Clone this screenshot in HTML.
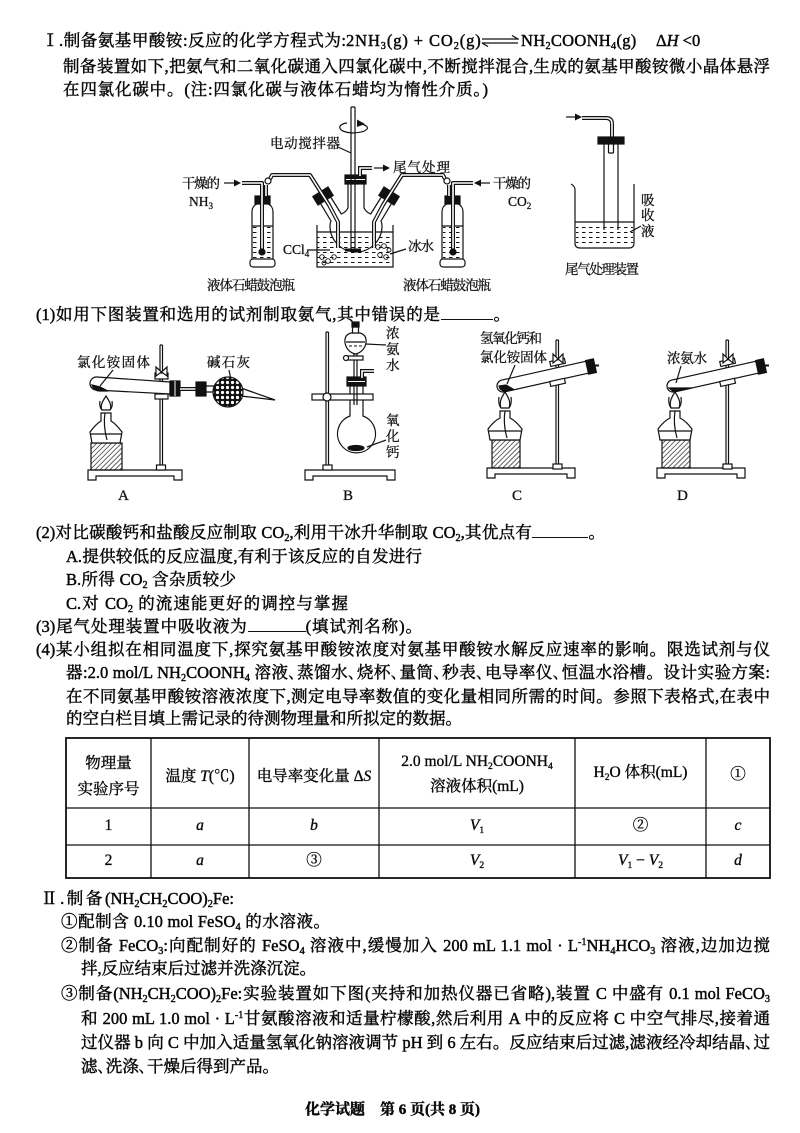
<!DOCTYPE html>
<html lang="zh-CN">
<head>
<meta charset="utf-8">
<style>
html,body{margin:0;padding:0;}
body{width:800px;height:1133px;background:#fff;position:relative;overflow:hidden;font-family:"Liberation Serif","Noto Serif CJK SC",serif;color:#080808;}
.l{position:absolute;font-size:16.5px;line-height:20px;height:20px;white-space:nowrap;-webkit-text-stroke:0.45px #080808;}
.j{text-align:justify;text-align-last:justify;}
.b{display:inline-block;border-bottom:1px solid #111;height:12px;}
.tc{position:absolute;font-size:15.5px;line-height:20px;text-align:center;white-space:nowrap;-webkit-text-stroke:0.35px #080808;}
sub{font-size:0.62em;vertical-align:-0.3em;line-height:0;}
sup{font-size:0.62em;vertical-align:0.6em;line-height:0;}
i{font-style:italic;}
svg text{font-family:"Liberation Serif","Noto Serif CJK SC",serif;font-size:13.5px;fill:#111;stroke:#111;stroke-width:0.3px;}
svg text.lt{font-size:15px;}
</style>
</head>
<body>

<svg width="800" height="1133" style="position:absolute;left:0;top:0" stroke="#111" fill="none" stroke-width="1.2">
<defs>
<pattern id="dl" width="7" height="5" patternUnits="userSpaceOnUse"><path d="M1 2.5H4.5" stroke="#111" stroke-width="1"/></pattern>
<pattern id="ht" width="3.5" height="3.5" patternUnits="userSpaceOnUse" patternTransform="rotate(45)"><path d="M0 0V3.5" stroke="#111" stroke-width="1.3"/></pattern>
<pattern id="bl" width="5" height="5" patternUnits="userSpaceOnUse"><rect width="5" height="5" fill="#111" stroke="none"/><circle cx="2.5" cy="2.5" r="1.6" fill="#fff" stroke="none"/></pattern>
</defs>

<!-- ========== Figure 1 ========== -->
<rect x="317" y="233" width="76" height="33" fill="url(#dl)" stroke="none"/>
<path d="M317 225V267H393V225M317 232H393"/>
<g stroke-width="0.9">
<circle cx="322" cy="257" r="2.3"/><circle cx="328" cy="261" r="2.3"/><circle cx="334" cy="257" r="2.3"/><circle cx="324" cy="263" r="2"/>
<circle cx="378" cy="247" r="2.3"/><circle cx="384" cy="246" r="2.3"/><circle cx="389" cy="250" r="2"/><circle cx="380" cy="255" r="2.3"/><circle cx="386" cy="257" r="2.3"/>
</g>
<path d="M320.5 203.4L331 221Q330 223 330 226A26 26 0 0 0 382 226Q382 223 381 221L391.5 203.4"/>
<path d="M330.7 197L341.3 214Q346 212 348 208V184M381.3 197L370.7 214Q366 212 364 208V184"/>
<polygon points="333.2,195.4 328,187 312.8,196.6 318,205" fill="#111"/>
<polygon points="378.8,195.4 384,187 399.2,196.6 394,205" fill="#111"/>
<rect x="345" y="175" width="21" height="9" fill="#111"/>
<path d="M346 179.5H365" stroke="#fff" stroke-width="1"/>
<path d="M351 107V250M355 107V250M351 107H355"/>
<rect x="345" y="248.5" width="16" height="3" fill="#111" stroke="none"/>
<path d="M361 124C371 126 370 132 353 133C336 132 337 124 347 123"/>
<polygon points="357,119.5 365,124 357,127" fill="#111" stroke="none"/>
<path d="M338 147L351 153"/>
<path d="M360 176V168H372" stroke-width="4"/><path d="M360 176V168H372" stroke="#fff" stroke-width="1.6"/>
<path d="M374 168H385"/><polygon points="383,164.5 390,168 383,171.5" fill="#111" stroke="none"/>

<rect x="253" y="226" width="19" height="33" fill="url(#dl)" stroke="none"/>
<path d="M252 260V212Q252 206 257 204V199M273 260V212Q273 206 268 204V199M252 226H273"/>
<rect x="255" y="196" width="15" height="8" fill="#111"/>
<rect x="250" y="259" width="25" height="8" rx="3" fill="#fff"/>
<rect x="443" y="226" width="19" height="33" fill="url(#dl)" stroke="none"/>
<path d="M463 260V212Q463 206 458 204V199M442 260V212Q442 206 447 204V199M442 226H463"/>
<rect x="445" y="196" width="15" height="8" fill="#111"/>
<rect x="440" y="259" width="25" height="8" rx="3" fill="#fff"/>

<g stroke-width="4" stroke-linejoin="round">
<path d="M242 183H262V252"/><path d="M266 196V185"/><path d="M270 179L272 175H310L329 205L338 222V248"/>
<path d="M473 183H453V252"/><path d="M449 196V185"/><path d="M445 179L443 175H402L383 205L374 222V248"/>
</g>
<g stroke="#fff" stroke-width="1.6" stroke-linejoin="round">
<path d="M242 183H262V252"/><path d="M266 196V185"/><path d="M270 179L272 175H310L329 205L338 222V248"/>
<path d="M473 183H453V252"/><path d="M449 196V185"/><path d="M445 179L443 175H402L383 205L374 222V248"/>
</g>
<circle cx="262" cy="252" r="3" fill="#111"/><circle cx="453" cy="252" r="3" fill="#111"/>
<circle cx="268" cy="181" r="3" fill="#fff"/><circle cx="447" cy="181" r="3" fill="#fff"/>
<path d="M224 183H236"/><polygon points="234,179.5 241,183 234,186.5" fill="#111" stroke="none"/>
<path d="M490 183H479"/><polygon points="481,179.5 474,183 481,186.5" fill="#111" stroke="none"/>

<path d="M307 250H330M406 249L390 254"/>

<path d="M566 117H577"/><polygon points="575,113.5 582,117 575,120.5" fill="#111" stroke="none"/>
<path d="M582 118H606Q612 118 612 124V140" stroke-width="4"/><path d="M582 118H606Q612 118 612 124V140" stroke="#fff" stroke-width="1.6"/>
<rect x="576" y="223" width="57" height="24" fill="url(#dl)" stroke="none"/>
<path d="M571 184Q575 186 575 190V243Q575 248 580 248H629Q634 248 634 243V184M575 222H634"/>
<path d="M604 144V230M618 144V230M608.5 144V153M613.5 144V153M608.5 153H613.5"/>
<rect x="598" y="137" width="26" height="7" fill="#111"/>
<path d="M641 226L630 232"/>

<text x="270" y="148" textLength="70" font-size="14">电动搅拌器</text>
<text x="393" y="172" textLength="57" font-size="14">尾气处理</text>
<text x="182" y="188" textLength="38">干燥的</text>
<text x="189" y="206">NH<tspan font-size="9" dy="3">3</tspan></text>
<text x="493" y="188" textLength="38">干燥的</text>
<text x="508" y="206">CO<tspan font-size="9" dy="3">2</tspan></text>
<text x="283" y="254">CCl<tspan font-size="9" dy="3">4</tspan></text>
<text x="408" y="251" textLength="26">冰水</text>
<text x="207" y="290" textLength="88">液体石蜡鼓泡瓶</text>
<text x="403" y="290" textLength="88">液体石蜡鼓泡瓶</text>
<text x="641" y="205" font-size="14">吸</text>
<text x="641" y="220" font-size="14">收</text>
<text x="641" y="236" font-size="14">液</text>
<text x="565" y="274" textLength="74">尾气处理装置</text>

<!-- ========== Figure 2 : A ========== -->
<path d="M88 480V470H182V480H174V476H96V480Z" fill="#fff"/>
<rect x="91" y="443" width="31" height="27" fill="url(#ht)"/>
<path d="M92 443L90 432Q96 424 101 421V413H111V421Q116 424 122 432L120 443Z" fill="#fff"/>
<path d="M91 434H121M105 413Q103 425 107 440"/>
<path d="M106 396C102 402 100 406 102 410H110C112 406 110 402 106 396Z"/>
<path d="M100 401Q99 407 102 410M112 401Q113 407 110 410"/>
<path d="M160 345V466M162.5 345V466M160 345H162.5"/>
<rect x="156.5" y="465" width="9" height="5" fill="#fff"/>
<path d="M170 382L97 377A6.5 6.5 0 0 0 96 390L170 394Z" fill="#fff"/>
<path d="M92 385Q94 391 100 391L108 391L100 387Z" fill="#111"/>
<rect x="155" y="373" width="13" height="6" fill="#fff"/>
<rect x="155" y="394" width="13" height="5" fill="#fff"/>
<path d="M161.5 372L156 367V376ZM161.5 372L167 367V376Z" fill="#fff"/>
<rect x="170" y="381" width="10" height="15" fill="#111"/>
<path d="M175 381V396" stroke="#fff" stroke-width="1"/>
<path d="M180 389H197" stroke-width="4"/><path d="M180 389H197" stroke="#fff" stroke-width="1.6"/>
<rect x="196" y="382" width="10" height="14" fill="#111"/>
<path d="M206 386H214M206 392H214"/>
<path d="M241 388L275 400L241 396" fill="#fff"/>
<circle cx="228" cy="392" r="15" fill="url(#bl)"/>
<path d="M113 370L100 386M229 370L231 380"/>
<text x="77" y="367" textLength="73">氯化铵固体</text>
<text x="207" y="367" textLength="43">碱石灰</text>
<text x="118" y="500" class="lt">A</text>

<!-- B -->
<path d="M305 480V470H395V480H387V476H313V480Z" fill="#fff"/>
<path d="M326 332V466M328.5 332V466M326 332H328.5"/>
<rect x="323" y="465" width="9" height="5" fill="#fff"/>
<path d="M350 386V416A19 19 0 1 0 363 416V386" fill="#fff"/>
<ellipse cx="356" cy="448" rx="8" ry="2.5" fill="#111"/>
<rect x="312" y="394" width="61" height="6" fill="#fff"/>
<circle cx="327" cy="397" r="4" fill="#fff"/>
<path d="M354 353V405M357 353V405"/>
<rect x="347" y="377" width="19" height="9" fill="#111"/>
<path d="M348 381.5H365" stroke="#fff" stroke-width="1"/>
<path d="M351 333Q344 335 345 343Q347 352 355.5 354Q364 352 366 343Q367 335 360 333Z" fill="#fff"/>
<path d="M346 342H365"/><path d="M349 346H352M354 346H357M359 346H362" stroke-width="0.9"/>
<rect x="352.5" y="327" width="6" height="6" fill="#fff"/>
<rect x="352" y="322" width="7" height="5" fill="#111"/>
<rect x="347" y="356" width="16" height="4" fill="#fff"/>
<circle cx="346" cy="358" r="2.5" fill="#fff"/>
<path d="M362 378V371H374" stroke-width="4"/><path d="M362 378V371H374" stroke="#fff" stroke-width="1.6"/>
<path d="M386 345L366 344M386 440L367 447"/>
<text x="386" y="338" font-size="14">浓</text>
<text x="386" y="354" font-size="14">氨</text>
<text x="386" y="370" font-size="14">水</text>
<text x="386" y="425" font-size="14">氧</text>
<text x="386" y="441" font-size="14">化</text>
<text x="386" y="457" font-size="14">钙</text>
<text x="343" y="500" class="lt">B</text>

<!-- C (and D via use) -->
<g id="cd">
<path d="M487 478V468H575V478H567V474H495V478Z" fill="#fff"/>
<rect x="492" y="440" width="28" height="28" fill="url(#ht)"/>
<path d="M490 440L488 429Q494 421 500 418V411H510V418Q516 421 522 429L520 440Z" fill="#fff"/>
<path d="M489 431H521M505 411Q503 424 507 438"/>
<path d="M505 392C501 398 499 403 501 408H509C511 403 509 398 505 392Z"/>
<path d="M499 397Q498 404 501 408M511 397Q512 404 509 408"/>
<path d="M556 340V464M558.5 340V464M556 340H558.5"/>
<rect x="553" y="464" width="9" height="5" fill="#fff"/>
<path d="M586.7 361.1L501.7 380.1A6 6 0 0 0 504.3 391.9L589.3 372.9Z" fill="#fff"/>
<rect x="550" y="360" width="15" height="5" fill="#fff" transform="rotate(-12.6 557 362)"/>
<rect x="550" y="380" width="15" height="5" fill="#fff" transform="rotate(-12.6 557 382)"/>
<path d="M558 359L553 354V363ZM558 359L563 354V363Z" fill="#fff"/>
<polygon points="596.4,372.4 588.6,374.2 585.6,360.6 593.4,358.8" fill="#111"/>
<path d="M595 365.5H599" stroke-width="2"/>
</g>
<use href="#cd" x="170" y="0"/>
<path d="M499 386Q500 391 505 391L513 389L506 385Z" fill="#111"/>
<path d="M669 388H692L674 392Z" fill="#111"/>
<path d="M515 365L507 384M681 366L676 383"/>
<text x="480" y="343" textLength="62">氢氧化钙和</text>
<text x="480" y="362" textLength="67">氯化铵固体</text>
<text x="667" y="363" textLength="40">浓氨水</text>
<text x="512" y="500" class="lt">C</text>
<text x="677" y="500" class="lt">D</text>

<!-- ========== Table lines ========== -->
<rect x="66" y="738" width="704" height="140" stroke-width="1.8"/>
<path d="M66 808H770M66 845H770M151 738V878M249 738V878M379 738V878M575 738V878M706 738V878" stroke-width="1.3"/>
</svg>

<!-- ========== Body text ========== -->
<div class="l j" style="left:42px;top:31px;width:304px">Ⅰ.制备氨基甲酸铵:反应的化学方程式为:</div>
<div class="l" style="left:346px;top:31px;letter-spacing:0.9px">2NH<sub>3</sub>(g) + CO<sub>2</sub>(g)</div>
<svg style="position:absolute;left:481px;top:35px" width="38" height="12"><path d="M1 4H37L31 0.5M1 8H37M1 8L7 11.5" stroke="#111" stroke-width="1.3" fill="none"/></svg>
<div class="l" style="left:521px;top:31px;letter-spacing:0.3px">NH<sub>2</sub>COONH<sub>4</sub>(g)</div>
<div class="l" style="left:656px;top:31px">Δ<i>H</i> &lt;0</div>

<div class="l j" style="left:63px;top:57px;width:707px">制备装置如下,把氨气和二氧化碳通入四氯化碳中,不断搅拌混合,生成的氨基甲酸铵微小晶体悬浮</div>
<div class="l j" style="left:63px;top:80px;width:425px">在四氯化碳中。(注:四氯化碳与液体石蜡均为惰性介质。)</div>

<div class="l j" style="left:36px;top:305px;width:474px">(1)如用下图装置和选用的试剂制取氨气,其中错误的是<span class="b" style="width:52px"></span>。</div>

<div class="l j" style="left:36px;top:523px;width:569px">(2)对比碳酸钙和盐酸反应制取 CO<sub>2</sub>,利用干冰升华制取 CO<sub>2</sub>,其优点有<span class="b" style="width:56px"></span>。</div>
<div class="l j" style="left:66px;top:547px;width:356px">A.提供较低的反应温度,有利于该反应的自发进行</div>
<div class="l j" style="left:66px;top:570px;width:170px">B.所得 CO<sub>2</sub> 含杂质较少</div>
<div class="l j" style="left:66px;top:594px;width:282px">C.对 CO<sub>2</sub> 的流速能更好的调控与掌握</div>
<div class="l j" style="left:36px;top:617px;width:386px">(3)尾气处理装置中吸收液为<span class="b" style="width:58px"></span>(填试剂名称)。</div>
<div class="l j" style="left:36px;top:640px;width:734px">(4)某小组拟在相同温度下,探究氨基甲酸铵浓度对氨基甲酸铵水解反应速率的影响。限选试剂与仪</div>
<div class="l j" style="left:66px;top:663px;width:704px">器:2.0 mol/L NH<sub>2</sub>COONH<sub>4</sub> 溶液､蒸馏水､烧杯､量筒､秒表､电导率仪､恒温水浴槽。设计实验方案:</div>
<div class="l j" style="left:66px;top:687px;width:704px">在不同氨基甲酸铵溶液浓度下,测定电导率数值的变化量相同所需的时间。参照下表格式,在表中</div>
<div class="l j" style="left:66px;top:709px;width:386px">的空白栏目填上需记录的待测物理量和所拟定的数据。</div>

<!-- ========== Table text ========== -->
<div class="tc" style="left:66px;top:754px;width:85px">物理量</div>
<div class="tc" style="left:66px;top:780px;width:85px">实验序号</div>
<div class="tc" style="left:151px;top:767px;width:98px">温度 <i>T</i>(℃)</div>
<div class="tc" style="left:249px;top:767px;width:130px">电导率变化量 Δ<i>S</i></div>
<div class="tc" style="left:379px;top:752px;width:196px">2.0 mol/L NH<sub>2</sub>COONH<sub>4</sub></div>
<div class="tc" style="left:379px;top:777px;width:196px">溶液体积(mL)</div>
<div class="tc" style="left:575px;top:763px;width:131px">H<sub>2</sub>O 体积(mL)</div>
<div class="tc" style="left:706px;top:765px;width:64px">①</div>

<div class="tc" style="left:66px;top:816px;width:85px">1</div>
<div class="tc" style="left:151px;top:816px;width:98px"><i>a</i></div>
<div class="tc" style="left:249px;top:816px;width:130px"><i>b</i></div>
<div class="tc" style="left:379px;top:816px;width:196px"><i>V</i><sub>1</sub></div>
<div class="tc" style="left:575px;top:816px;width:131px">②</div>
<div class="tc" style="left:706px;top:816px;width:64px"><i>c</i></div>

<div class="tc" style="left:66px;top:851px;width:85px">2</div>
<div class="tc" style="left:151px;top:851px;width:98px"><i>a</i></div>
<div class="tc" style="left:249px;top:851px;width:130px">③</div>
<div class="tc" style="left:379px;top:851px;width:196px"><i>V</i><sub>2</sub></div>
<div class="tc" style="left:575px;top:851px;width:131px"><i>V</i><sub>1</sub> − <i>V</i><sub>2</sub></div>
<div class="tc" style="left:706px;top:851px;width:64px"><i>d</i></div>

<!-- ========== Part II ========== -->
<div class="l j" style="left:41px;top:889px;width:193px">Ⅱ.制备(NH<sub>2</sub>CH<sub>2</sub>COO)<sub>2</sub>Fe:</div>
<div class="l j" style="left:61px;top:912px;width:269px">①配制含 0.10 mol FeSO<sub>4</sub> 的水溶液。</div>
<div class="l j" style="left:61px;top:936px;width:709px">②制备 FeCO<sub>3</sub>:向配制好的 FeSO<sub>4</sub> 溶液中,缓慢加入 200 mL 1.1 mol · L<sup>-1</sup>NH<sub>4</sub>HCO<sub>3</sub> 溶液,边加边搅</div>
<div class="l j" style="left:81px;top:959px;width:232px">拌,反应结束后过滤并洗涤沉淀。</div>
<div class="l j" style="left:61px;top:984px;width:709px">③制备(NH<sub>2</sub>CH<sub>2</sub>COO)<sub>2</sub>Fe:实验装置如下图(夹持和加热仪器已省略),装置 C 中盛有 0.1 mol FeCO<sub>3</sub></div>
<div class="l j" style="left:81px;top:1009px;width:689px">和 200 mL 1.0 mol · L<sup>-1</sup>甘氨酸溶液和适量柠檬酸,然后利用 A 中的反应将 C 中空气排尽,接着通</div>
<div class="l j" style="left:81px;top:1033px;width:689px">过仪器 b 向 C 中加入适量氢氧化钠溶液调节 pH 到 6 左右。反应结束后过滤,滤液经冷却结晶､过</div>
<div class="l j" style="left:81px;top:1057px;width:188px">滤､洗涤､干燥后得到产品。</div>

<div class="l j" style="left:305px;top:1100px;width:170px;font-size:15px;font-weight:bold;">化学试题　第 6 页(共 8 页)</div>

</body>
</html>
